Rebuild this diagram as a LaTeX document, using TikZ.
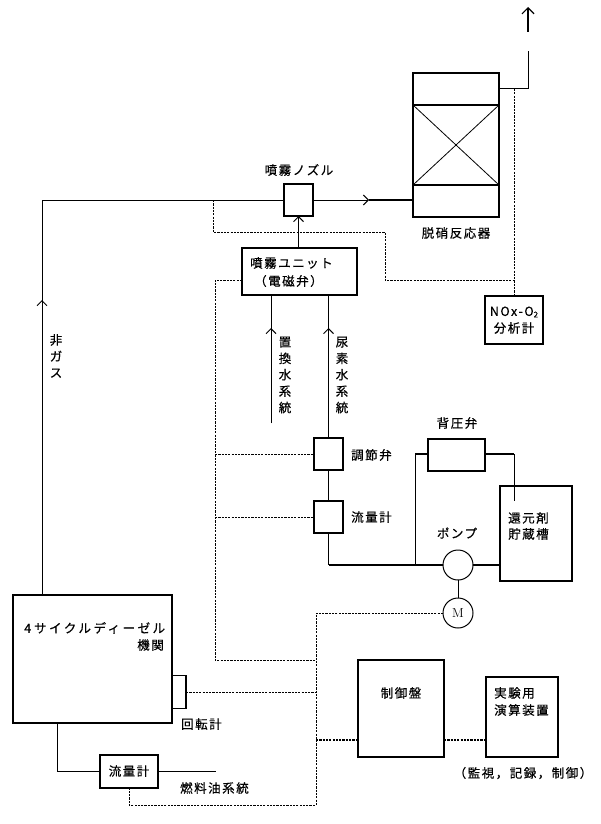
\documentclass[tikz,border=0pt]{standalone}
\usepackage{fontspec}
\usetikzlibrary{arrows.meta}
\newfontfamily\jp[LetterSpace=12,FakeBold=0.5]{Noto Sans CJK JP}
\tikzset{
  unit/.style={draw,line width=1.2pt,fill=white,inner sep=0pt,outer sep=0pt},
  round unit/.style={draw,circle,line width=1pt,fill=white,inner sep=0pt,outer sep=0pt,minimum size=30pt},
  pipe/.style={line width=1pt},
  heavy pipe/.style={line width=1.7pt},
  signal/.style={line width=1pt,dash pattern=on 2.2pt off 1.1pt},
  barb/.style={-{Straight Barb[length=5pt,width=10pt,line width=1pt]}},
  label/.style={inner sep=0pt,font=\jp\fontsize{12.5}{15}\selectfont,align=left},
  tall label/.style={inner sep=0pt,font=\jp\fontsize{12.5}{16.4}\selectfont,align=center},
}
\begin{document}
\begin{tikzpicture}[x=1pt,y=-1pt]
\useasboundingbox (0,0) rectangle (600,824);

% equipment
\node[unit,minimum width=86pt,minimum height=144pt] (reactor) at (456,145) {};
\node[unit,minimum width=29pt,minimum height=32pt] (nozzle) at (298.5,200) {};
\node[unit,minimum width=115pt,minimum height=47pt] (spray) at (299.5,271.5) {};
\node[unit,minimum width=58pt,minimum height=48pt] (analyzer) at (514,320) {};
\node[unit,minimum width=29pt,minimum height=32pt] (valve) at (328.5,454) {};
\node[unit,minimum width=29pt,minimum height=32pt] (meter) at (328.5,517) {};
\node[unit,minimum width=57pt,minimum height=32pt] (backvalve) at (456.5,455) {};
\node[unit,minimum width=72pt,minimum height=95pt] (tank) at (536,533.5) {};
\node[round unit] (pump) at (458,565) {};
\node[round unit] (motor) at (458,613) {};
\node[unit,minimum width=159pt,minimum height=128pt] (engine) at (92.5,659) {};
\node[unit,minimum width=14pt,minimum height=33pt] (tacho) at (179,692) {};
\node[unit,minimum width=58pt,minimum height=33pt] (fuelmeter) at (129,771.5) {};
\node[unit,minimum width=86pt,minimum height=97pt] (panel) at (401,708.5) {};
\node[unit,minimum width=72pt,minimum height=80pt] (computer) at (522,717) {};

% catalyst bed inside the reactor
\coordinate (bedNW) at (413,105);
\coordinate (bedNE) at (499,105);
\coordinate (bedSW) at (413,185);
\coordinate (bedSE) at (499,185);
\draw[line width=1.2pt] (bedNW) -- (bedNE) (bedSW) -- (bedSE);
\draw[line width=0.8pt] (bedNW) -- (bedSE) (bedNE) -- (bedSW);

% routing points
\coordinate (stackBend) at (528,89);
\coordinate (stackGapLow) at (528,51);
\coordinate (stackGapHigh) at (528,32);
\coordinate (stackTop) at (528,7);
\coordinate (exhaustBend) at (42,200);
\coordinate (exhaustMark) at (42,300);
\coordinate (flowMark) at (369,200);
\coordinate (waterEnd) at (271,423);
\coordinate (waterMark) at (271,328);
\coordinate (ureaMark) at (328.5,328);
\coordinate (returnCorner) at (415,565);
\coordinate (returnTop) at (415,454);
\coordinate (tankDrop) at (514,501);
\coordinate (tankRise) at (514,454);
\coordinate (fuelCorner) at (57.5,771.5);
\coordinate (fuelEnd) at (216,771.5);
\coordinate (mainCorner) at (329,565);
\coordinate (tap) at (213,200);
\coordinate (tapLow) at (213,232);
\coordinate (sampleMid) at (385,232);
\coordinate (sampleLow) at (385,280);
\coordinate (sampleJoin) at (514,280);
\coordinate (sampleTop) at (514,89);
\coordinate (busTop) at (215,280);
\coordinate (busLow) at (215,660);
\coordinate (riserTop) at (316,613);
\coordinate (riserFoot) at (316,805);
\coordinate (fuelTapFoot) at (129,805);
\coordinate (panelTap) at (316,740);

% process lines
\draw[pipe] (reactor.east |- stackBend) -- (stackBend) -- (stackGapLow);
\draw[line width=1.2pt,-{Straight Barb[length=6pt,width=12pt,line width=1.2pt]}] (stackGapHigh) -- (stackTop);
\draw[pipe] (engine.north -| exhaustBend) -- (exhaustBend) -- (nozzle.west);
\draw[pipe,barb] (engine.north -| exhaustMark) -- (exhaustMark);
\draw[pipe,barb] (nozzle.east) -- (flowMark);
\draw[heavy pipe] (flowMark) -- (reactor.west |- flowMark);
\draw[pipe,barb] (spray.north -| nozzle) -- (nozzle.south);
\draw[pipe] (waterEnd) -- (spray.south -| waterEnd);
\draw[pipe,barb] (waterEnd) -- (waterMark);
\draw[pipe] (valve.north) -- (spray.south -| valve);
\draw[pipe,barb] (valve.north) -- (ureaMark);
\draw[pipe] (valve.south) -- (meter.north);
\draw[pipe] (meter.south) -- (meter.south |- mainCorner);
\draw[heavy pipe] (meter.south |- mainCorner) -- (pump.west);
\draw[heavy pipe] (pump.east) -- (tank.west |- pump);
\draw[pipe] (returnCorner) -- (returnTop);
\draw[heavy pipe] (returnTop) -- (backvalve.west |- returnTop);
\draw[heavy pipe] (backvalve.east |- tankRise) -- (tankRise);
\draw[pipe] (tankRise) -- (tankDrop);
\draw[pipe] (pump.south) -- (motor.north);
\draw[pipe] (engine.south -| fuelCorner) -- (fuelCorner) -- (fuelmeter.west);
\draw[heavy pipe] (fuelmeter.east) -- (fuelEnd);

% signal lines
\draw[signal] (sampleTop) -- (analyzer.north);
\draw[signal] (tap) -- (tapLow) -- (sampleMid) -- (sampleLow) -- (sampleJoin);
\draw[signal] (spray.west |- busTop) -- (busTop) -- (busLow) -- (busLow -| riserTop);
\draw[signal] (busTop |- valve) -- (valve.west);
\draw[signal] (busTop |- meter) -- (meter.west);
\draw[signal] (motor.west) -- (riserTop) -- (riserFoot) -- (fuelTapFoot) -- (fuelmeter.south);
\draw[signal] (tacho.east) -- (tacho.east -| riserTop);
\draw[signal,line width=1.4pt] (panelTap) -- (panel.west |- panelTap);
\draw[signal,line width=1.4pt] (panel.east |- panelTap) -- (computer.west |- panelTap);

% labels
\node[label] (tNozzle) at (299,170) {噴霧ノズル};
\node[label] (tReactor) at (456,233) {脱硝反応器};
\node[label,anchor=west] (tSpray) at (250,263) {噴霧ユニット};
\node[label,anchor=west] (tSolenoid) at (254,281) {（電磁弁）};
\node[label] (tAnalyzerA) at (514,312) {NOx-O\raisebox{-1.5pt}{\fontsize{8}{8}\selectfont 2}};
\node[label] (tAnalyzerB) at (514,328) {分析計};
\node[tall label] (tWater) at (285,375) {置\\換\\水\\系\\統};
\node[tall label] (tUrea) at (342,375) {尿\\素\\水\\系\\統};
\node[tall label] (tExhaust) at (56,356) {非\\ガ\\ス};
\node[label] (tBack) at (457,423) {背圧弁};
\node[label,anchor=west] (tValve) at (351,455) {調節弁};
\node[label,anchor=west] (tMeter) at (351,517) {流量計};
\node[label] (tPump) at (457,533) {ポンプ};
\node[label,anchor=west] (tTankA) at (508,518) {還元剤};
\node[label,anchor=west] (tTankB) at (508,534) {貯蔵槽};
\node[font=\fontsize{13}{13}\selectfont,inner sep=0pt] (tMotor) at (458,613) {M};
\node[label,anchor=west] (tEngineA) at (24,628) {4\hspace{3pt}{\addfontfeature{LetterSpace=20}サイクルディーゼル}};
\node[label,anchor=east] (tEngineB) at (164,645) {機関};
\node[label,anchor=west] (tTacho) at (181,724) {回転計};
\node[label] (tFuelMeter) at (129,771) {流量計};
\node[label,anchor=west] (tFuel) at (180,788) {燃料油系統};
\node[label] (tPanel) at (401,693) {制御盤};
\node[label,anchor=west] (tComputerA) at (494,693) {実験用};
\node[label,anchor=west] (tComputerB) at (494,710) {演算装置};
\node[label] (tDuty) at (523,773) {（監視，記録，制御）};
\end{tikzpicture}
\end{document}
